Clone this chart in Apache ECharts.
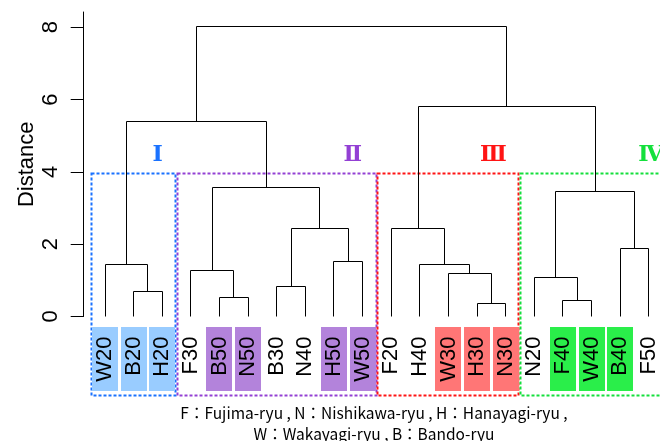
<!DOCTYPE html>
<html>
<head>
<meta charset="utf-8">
<script src="https://cdn.jsdelivr.net/npm/echarts@6/dist/echarts.min.js"></script>
<style>
  html, body { margin: 0; padding: 0; background: #fff; }
  #chart { width: 660px; height: 441px; }
</style>
</head>
<body>
<div id="chart"></div>
<script>
// Leaves of the dendrogram, left to right
const leaves = ['W20', 'B20', 'H20', 'F30', 'B50', 'N50', 'B30', 'N40', 'H50', 'W50',
                'F20', 'H40', 'W30', 'H30', 'N30', 'N20', 'F40', 'W40', 'B40', 'F50'];

// Agglomeration steps: a string names a leaf, a number refers to an earlier step
const mergeA = ['H30', 'F40', 'B50', 'B20', 'B30', 'N20', 'W30', 'F30', 'W20', 'H40',
                'H50', 'B40', 4, 'F20', 5, 7, 8, 13, 16];
const mergeB = ['N30', 'W40', 'N50', 'H20', 'N40', 1, 0, 2, 3, 6,
                'W50', 'F50', 10, 9, 11, 12, 15, 14, 17];
const mergeHeight = [0.36, 0.44, 0.52, 0.68, 0.84, 1.08, 1.20, 1.28, 1.43, 1.43,
                     1.53, 1.88, 2.44, 2.44, 3.47, 3.56, 5.38, 5.80, 8.03];

// Clusters cut from the tree
const clusterNames = ['Ⅰ', 'Ⅱ', 'Ⅲ', 'Ⅳ'];
const clusterFirst = ['W20', 'F30', 'F20', 'N20'];
const clusterLast  = ['H20', 'W50', 'N30', 'F50'];
const cutHeight = 3.95;

// Leaves whose labels are shaded with their cluster colour
const shadedLeaves = ['W20', 'B20', 'H20', 'B50', 'N50', 'H50', 'W50',
                      'W30', 'H30', 'N30', 'F40', 'W40', 'B40'];

// Y axis tick labels
const yTicks = [0, 2, 4, 6, 8];

const captionLines = ['F：Fujima-ryu , N：Nishikawa-ryu , H：Hanayagi-ryu ,',
                      'W：Wakayagi-ryu , B：Bando-ryu'];

// ---- styling / layout ----
const clusterStroke = ['#1a72ff', '#9340d4', '#ff1414', '#14e03c'];
const clusterFill   = ['#99ccff', '#b383db', '#ff7676', '#2aee4a'];
const numeralX      = [1.84, 8.66, 13.57, 19.07];   // numeral anchor, in leaf units
const sansFamily = '"Liberation Sans", Arial, sans-serif';
const labelFont = '22px ' + sansFamily;

// ---- build tree geometry from the merge table ----
const nodeX = [], nodeH = [];
function nodePos(ref) {
  if (typeof ref === 'string') return [leaves.indexOf(ref), 0];
  return [nodeX[ref], nodeH[ref]];
}
const branches = [];
for (let k = 0; k < mergeHeight.length; k++) {
  const a = nodePos(mergeA[k]), b = nodePos(mergeB[k]);
  nodeX[k] = (a[0] + b[0]) / 2;
  nodeH[k] = mergeHeight[k];
  branches.push([a[0], a[1], b[0], b[1], mergeHeight[k]]);
}

function clusterOf(i) {
  for (let g = 0; g < clusterNames.length; g++) {
    if (i >= leaves.indexOf(clusterFirst[g]) && i <= leaves.indexOf(clusterLast[g])) return g;
  }
  return -1;
}
const crisp = v => Math.round(v - 0.5) + 0.5;

const chart = echarts.init(document.getElementById('chart'), null, { renderer: 'canvas' });

chart.setOption({
  animation: false,
  backgroundColor: '#fff',
  grid: { left: 90.7, right: 11.2, top: 12, bottom: 124.5 },
  xAxis: { type: 'value', min: -0.5, max: 19, show: false },
  yAxis: {
    type: 'value', min: 0, max: 8.42, offset: 7,
    name: 'Distance', nameLocation: 'middle', nameGap: 46, nameRotate: 90,
    nameMoveOverlap: false,
    nameTextStyle: { fontSize: 22, fontFamily: sansFamily, color: '#000' },
    axisLine: { show: true, onZero: false, lineStyle: { color: '#000', width: 1 } },
    axisTick: { show: true, length: 13, customValues: yTicks, lineStyle: { color: '#000', width: 1 } },
    axisLabel: { show: true, rotate: 90, margin: 22, customValues: yTicks, fontSize: 22,
                 fontFamily: sansFamily, color: '#000' },
    splitLine: { show: false }
  },
  series: [
    {
      // dashed cluster frames and their numerals
      type: 'custom', clip: false, z: 1,
      data: clusterNames.map((n, g) => [leaves.indexOf(clusterFirst[g]) - 0.47,
                                        leaves.indexOf(clusterLast[g]) + 0.47, g]),
      encode: { x: [0, 1] },
      renderItem: (params, api) => {
        const g = api.value(2);
        const left = api.coord([api.value(0), cutHeight]);
        const right = api.coord([api.value(1), 0]);
        const top = left[1];
        const bottom = right[1] + 79.5;
        const num = api.coord([numeralX[g], cutHeight + 0.5]);
        return {
          type: 'group',
          children: [
            { type: 'rect',
              shape: { x: crisp(left[0]), y: crisp(top), width: Math.round(right[0] - left[0]), height: Math.round(bottom - top) },
              style: { fill: null, stroke: clusterStroke[g], lineWidth: 2, lineDash: [3, 2] } },
            { type: 'text', x: num[0], y: num[1],
              style: { text: clusterNames[g], fill: clusterStroke[g], align: 'center', verticalAlign: 'middle',
                       font: 'bold 22px "DejaVu Serif", "Liberation Serif", serif' } }
          ]
        };
      }
    },
    {
      // leaf labels with optional cluster shading
      type: 'custom', clip: false, z: 2,
      data: leaves.map((n, i) => [i, 0]),
      encode: { x: 0, y: 1 },
      renderItem: (params, api) => {
        const i = api.value(0);
        const p = api.coord([i, 0]);
        const children = [];
        if (shadedLeaves.indexOf(leaves[i]) >= 0) {
          children.push({ type: 'rect',
            shape: { x: Math.round(p[0] - 13), y: Math.round(p[1] + 10), width: 26, height: 64 },
            style: { fill: clusterFill[clusterOf(i)] } });
        }
        children.push({ type: 'text', x: p[0], y: p[1] + 20, rotation: Math.PI / 2,
          style: { text: leaves[i], fill: '#000', align: 'right', verticalAlign: 'middle', font: labelFont } });
        return { type: 'group', children };
      }
    },
    {
      // dendrogram branches
      type: 'custom', clip: false, z: 3,
      data: branches,
      encode: { x: [0, 2], y: [1, 3, 4] },
      renderItem: (params, api) => {
        const xa = api.value(0), ha = api.value(1), xb = api.value(2), hb = api.value(3), h = api.value(4);
        const pts = [api.coord([xa, ha]), api.coord([xa, h]), api.coord([xb, h]), api.coord([xb, hb])]
          .map(p => [crisp(p[0]), crisp(p[1])]);
        return { type: 'polyline', shape: { points: pts },
                 style: { fill: null, stroke: '#000', lineWidth: 1 } };
      }
    }
  ],
  graphic: [{
    type: 'text', x: 374, y: 403,
    style: { text: captionLines.join('\n'), align: 'center', verticalAlign: 'top',
             font: '15.5px "Noto Sans CJK JP", sans-serif', lineHeight: 21, fill: '#000' }
  }]
});
</script>
</body>
</html>
